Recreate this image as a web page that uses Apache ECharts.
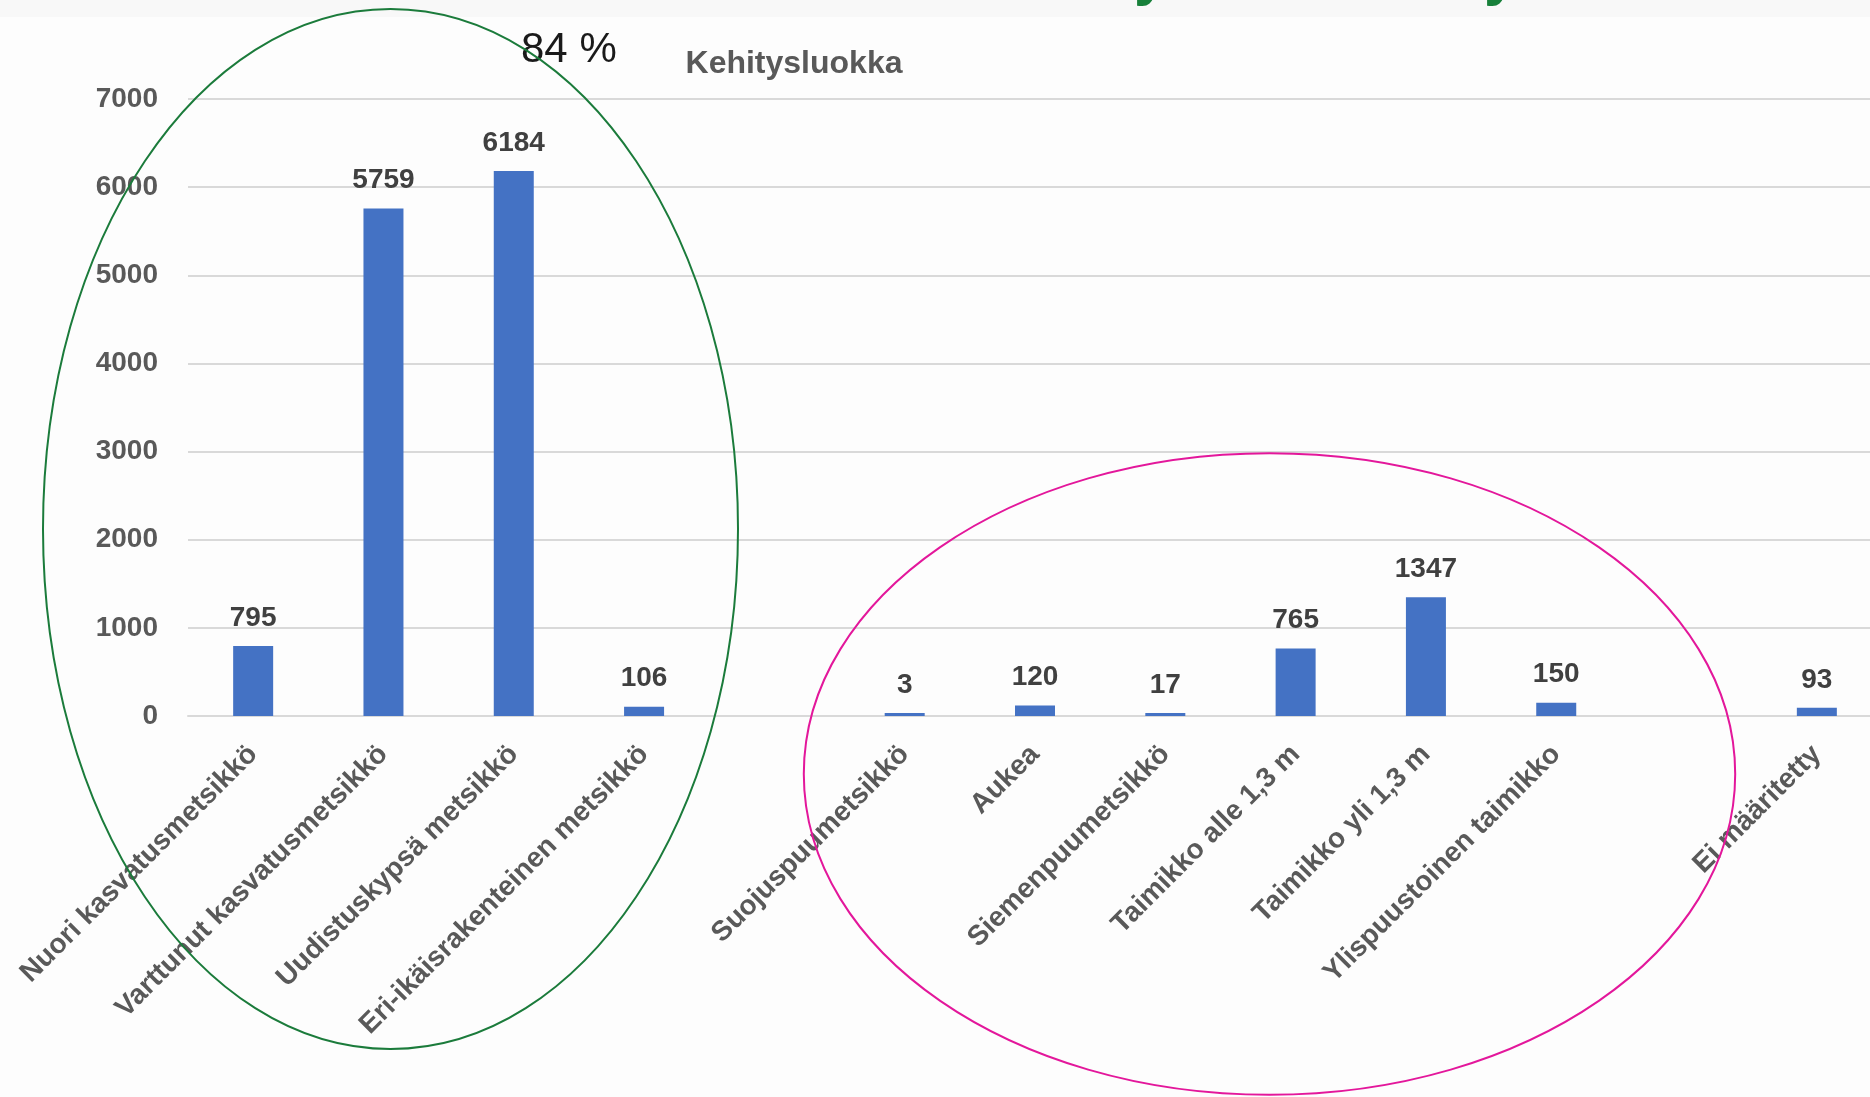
<!DOCTYPE html>
<html>
<head>
<meta charset="utf-8">
<script src="https://cdn.jsdelivr.net/npm/echarts@6/dist/echarts.min.js"></script>
<style>
html,body{margin:0;padding:0;background:#fdfdfd;overflow:hidden;width:1870px;height:1097px;}
#chart{width:1900px;height:1097px;}
</style>
</head>
<body>
<div id="chart"></div>
<script>
const categories = ['Nuori kasvatusmetsikkö','Varttunut kasvatusmetsikkö','Uudistuskypsä metsikkö','Eri-ikäisrakenteinen metsikkö','','Suojuspuumetsikkö','Aukea','Siemenpuumetsikkö','Taimikko alle 1,3 m','Taimikko yli 1,3 m','Ylispuustoinen taimikko',' ','Ei määritetty'];
const values = [795, 5759, 6184, 106, null, 3, 120, 17, 765, 1347, 150, null, 93];
const yTicks = [0, 1000, 2000, 3000, 4000, 5000, 6000, 7000];
const chartTitle = 'Kehitysluokka';
const shareText = '84 %';

const FONT = 'Liberation Sans';
const chart = echarts.init(document.getElementById('chart'));
chart.setOption({
  backgroundColor: '#fdfdfd',
  animation: false,
  grid: { left: 188, top: 99, width: 1694, height: 617, containLabel: false },
  xAxis: {
    type: 'category',
    data: categories,
    axisLine: { lineStyle: { color: '#d9d9d9', width: 2 } },
    axisTick: { show: false },
    axisLabel: {
      interval: 0, rotate: 45, margin: 34,
      fontFamily: FONT, fontSize: 28, fontWeight: 'bold', color: '#595959'
    }
  },
  yAxis: {
    type: 'value',
    min: yTicks[0], max: yTicks[yTicks.length - 1], interval: 1000,
    axisLine: { show: false },
    axisTick: { show: false },
    splitLine: { lineStyle: { color: '#d9d9d9', width: 2 } },
    axisLabel: {
      margin: 30, fontFamily: FONT, fontSize: 28, fontWeight: 'bold', color: '#595959',
      formatter: v => String(v)
    }
  },
  series: [{
    type: 'bar',
    data: values,
    barWidth: 40,
    barMinHeight: 3,
    itemStyle: { color: '#4472c4' },
    label: {
      show: true, position: 'top', distance: 14,
      fontFamily: FONT, fontSize: 28, fontWeight: 'bold', color: '#404040'
    }
  }],
  graphic: [
    { type: 'rect', z: -10, shape: { x: 0, y: 0, width: 1900, height: 17 }, style: { fill: '#f8f8f8' } },
    { type: 'text', z: 100, style: { text: 'y', x: 1134, y: 7, textVerticalAlign: 'bottom', font: 'bold 60px "Liberation Sans"', fill: '#17803a' } },
    { type: 'text', z: 100, style: { text: 'y', x: 1484, y: 7, textVerticalAlign: 'bottom', font: 'bold 60px "Liberation Sans"', fill: '#17803a' } },
    { type: 'text', z: 100, style: { text: chartTitle, x: 794, y: 64, textAlign: 'center', textVerticalAlign: 'middle', font: 'bold 32px "Liberation Sans"', fill: '#595959' } },
    { type: 'text', z: 100, style: { text: shareText, x: 521, y: 50, textAlign: 'left', textVerticalAlign: 'middle', font: '42px "Liberation Sans"', fill: '#1a1a1a' } },
    { type: 'ellipse', z: 100, shape: { cx: 390.5, cy: 529, rx: 347.5, ry: 520 }, style: { fill: null, stroke: '#1b7b3b', lineWidth: 2 } },
    { type: 'ellipse', z: 100, shape: { cx: 1269.5, cy: 774, rx: 465.7, ry: 320.8 }, style: { fill: null, stroke: '#e3179b', lineWidth: 2 } }
  ]
});
</script>
</body>
</html>
